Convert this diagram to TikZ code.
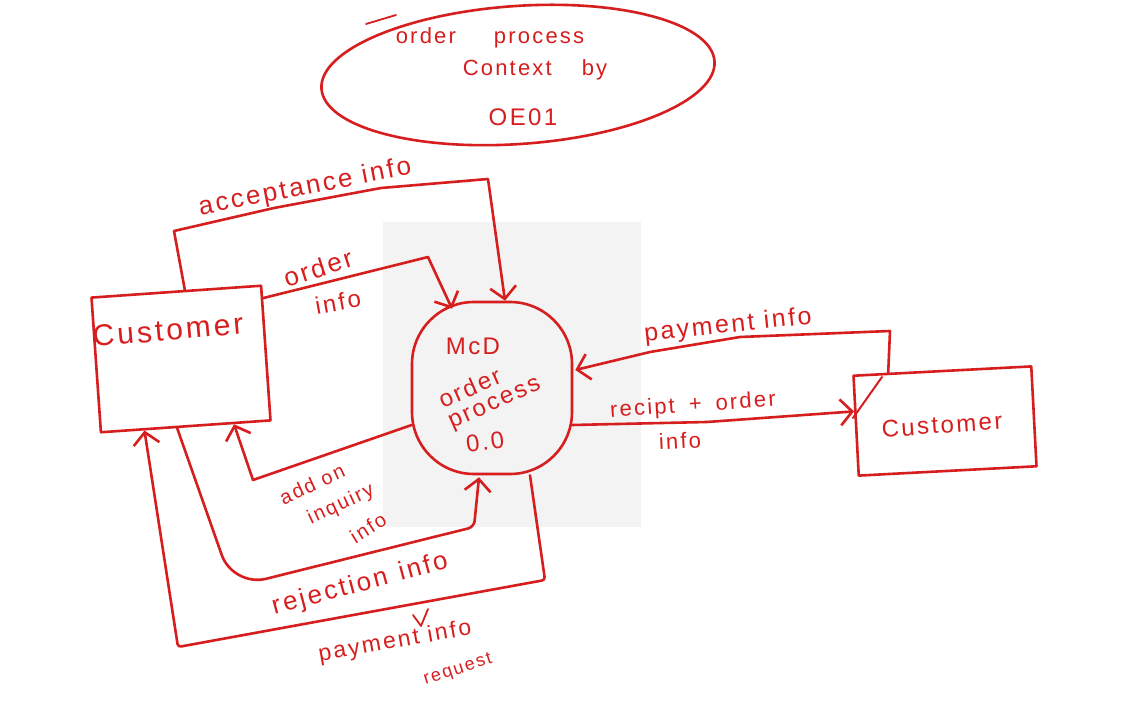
\documentclass[tikz,border=0pt]{standalone}
\usepackage{fontspec}
\setmainfont{Liberation Sans}
\newfontfamily\hand[LetterSpace=10]{Liberation Sans}
\usetikzlibrary{arrows.meta,calc,shapes.geometric}
\definecolor{ink}{RGB}{215,30,30}
\definecolor{pane}{RGB}{243,243,243}
\begin{document}
\begin{tikzpicture}[x=1pt,y=-1pt,
  plain/.style={draw=ink, line width=2.6pt, line cap=round, line join=round},
  flow/.style={plain, -{Straight Barb[length=12pt,width=26pt]}},
  box/.style={draw=ink, line width=2.6pt, line join=round, inner sep=0pt},
  lbl/.style={text=ink, inner sep=0pt, font=\hand\fontsize{#1}{#1}\selectfont},
  lbl/.default=24
]
\useasboundingbox (0,0) rectangle (1144,727);
\fill[white] (0,0) rectangle (1144,727);
\fill[pane] (383,222) rectangle (641,527);

% title
\node[box, ellipse, minimum width=394pt, minimum height=138pt, rotate=4] (title) at (518,75) {};
\draw[plain, line width=1.8pt] (366,24) -- (396,15);
\node[lbl=22] (t1) at (490,38) {order\hspace{38pt}process};
\node[lbl=22] (t2) at (535,70) {Context\hspace{30pt}by};
\node[lbl=24] (t3) at (523,117) {OE01};

% external entities
\node[box, minimum width=170pt, minimum height=135pt, rotate=4] (custL) at (181,359) {};
\node[lbl=30, rotate=5] (custLtxt) at (168,330) {Customer};
\node[box, minimum width=178pt, minimum height=100pt, rotate=3] (custR) at (945,421) {};
\node[lbl=24, rotate=4] (custRtxt) at (942,425) {Customer};
\draw[plain, line width=2pt] (853,418) -- (882,377);

% process
\node[box, rounded corners=62pt, minimum width=160pt, minimum height=172pt] (proc) at (492,388) {};
\node[lbl=24] (p1) at (473,346) {McD};
\node[lbl=24, rotate=24, align=left, font=\hand\fontsize{24}{22}\selectfont] (p2) at (490,393) {order\\process};
\node[lbl=24, rotate=8] (p4) at (485,442) {0.0};

% named ends on the process border
\coordinate (eAcc) at ($(proc.north)+(13,0)$);
\coordinate (eOrd) at ($(proc.north)+(-40,8)$);
\coordinate (sAdd) at ($(proc.west)+(1,37)$);
\coordinate (eRej) at ($(proc.south)+(-13,2)$);
\coordinate (sReq) at ($(proc.south)+(38,0)$);
\coordinate (ePay) at ($(proc.east)+(2,-18)$);
\coordinate (sRec) at ($(proc.east)+(-1,37)$);

% acceptance info
\draw[flow] ($(custL.north west)!0.55!(custL.north east)$) -- (174,231) -- (274,208) -- (381,188) -- (488,179) -- (eAcc);
\node[lbl=26, rotate=11] (lAcc) at (305,188) {acceptance info};

% order info
\draw[flow] ($(custL.north east)!0.1!(custL.south east)$) -- (428,257) -- (eOrd);
\node[lbl=26, rotate=18] (lOrd1) at (318,268) {order};
\node[lbl=24, rotate=10] (lOrd2) at (338,302) {info};

% add on inquiry info
\draw[flow] (sAdd) -- (253,480) -- ($(custL.south west)!0.78!(custL.south east)$);
\node[lbl=20, rotate=25] (lAdd1) at (312,484) {add on};
\node[lbl=20, rotate=25] (lAdd2) at (341,505) {inquiry};
\node[lbl=20, rotate=32] (lAdd3) at (368,528) {info};

% rejection info
\draw[flow] ($(custL.south west)!0.45!(custL.south east)$) [rounded corners=34pt] -- (233,587) [rounded corners=6pt] -- (474,527) [sharp corners] -- (eRej);
\node[lbl=26, rotate=15] (lRej) at (360,585) {rejection\hspace{12pt}info};

% payment info request
\draw[flow] (sReq) [rounded corners=3pt] -- (545,580) -- (178,647) [sharp corners] -- ($(custL.south west)!0.26!(custL.south east)$);
\node[lbl=23, rotate=10] (lReq1) at (395,642) {payment info};
\node[lbl=18, rotate=18] (lReq2) at (458,670) {request};
\draw[plain, line width=1.8pt] (413,615) -- (421,626) -- (428,609);

% payment info (right)
\draw[flow] ($(custR.north west)!0.2!(custR.north east)$) -- (890,331) -- (740,337) -- (650,352) -- (ePay);
\node[lbl=25, rotate=6] (lPay) at (728,326) {payment info};

% recipt + order info
\draw[flow] (sRec) -- (707,422) -- ($(custR.north west)!0.36!(custR.south west)$);
\node[lbl=22, rotate=4] (lRec1) at (693,406) {recipt\hspace{14pt}+\hspace{14pt}order};
\node[lbl=22, rotate=3] (lRec2) at (680,441) {info};
\end{tikzpicture}
\end{document}
